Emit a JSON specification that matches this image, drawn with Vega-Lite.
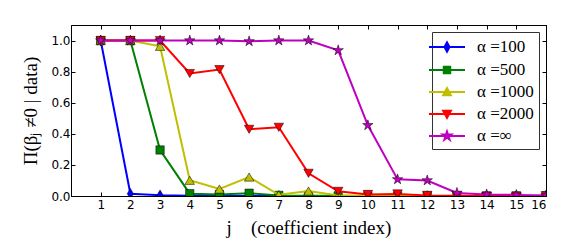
{
  "$schema": "https://vega.github.io/schema/vega-lite/v6.json",
  "width": 475,
  "height": 171,
  "autosize": "none",
  "padding": {"left": 71, "top": 25, "right": 40, "bottom": 49},
  "background": "white",
  "data": {"values": [
    {"s": "α =100", "j": 1, "p": 1.0}, {"s": "α =100", "j": 2, "p": 0.015}, {"s": "α =100", "j": 3, "p": 0.005}, {"s": "α =100", "j": 4, "p": 0.002},
    {"s": "α =100", "j": 5, "p": 0}, {"s": "α =100", "j": 6, "p": 0}, {"s": "α =100", "j": 7, "p": 0}, {"s": "α =100", "j": 8, "p": 0},
    {"s": "α =100", "j": 9, "p": 0}, {"s": "α =100", "j": 10, "p": 0}, {"s": "α =100", "j": 11, "p": 0}, {"s": "α =100", "j": 12, "p": 0},
    {"s": "α =100", "j": 13, "p": 0}, {"s": "α =100", "j": 14, "p": 0}, {"s": "α =100", "j": 15, "p": 0}, {"s": "α =100", "j": 16, "p": 0},
    {"s": "α =500", "j": 1, "p": 1.0}, {"s": "α =500", "j": 2, "p": 1.0}, {"s": "α =500", "j": 3, "p": 0.296}, {"s": "α =500", "j": 4, "p": 0.015},
    {"s": "α =500", "j": 5, "p": 0.01}, {"s": "α =500", "j": 6, "p": 0.018}, {"s": "α =500", "j": 7, "p": 0.004}, {"s": "α =500", "j": 8, "p": 0.002},
    {"s": "α =500", "j": 9, "p": 0.001}, {"s": "α =500", "j": 10, "p": 0}, {"s": "α =500", "j": 11, "p": 0}, {"s": "α =500", "j": 12, "p": 0},
    {"s": "α =500", "j": 13, "p": 0}, {"s": "α =500", "j": 14, "p": 0}, {"s": "α =500", "j": 15, "p": 0}, {"s": "α =500", "j": 16, "p": 0},
    {"s": "α =1000", "j": 1, "p": 1.0}, {"s": "α =1000", "j": 2, "p": 1.0}, {"s": "α =1000", "j": 3, "p": 0.963}, {"s": "α =1000", "j": 4, "p": 0.101},
    {"s": "α =1000", "j": 5, "p": 0.045}, {"s": "α =1000", "j": 6, "p": 0.122}, {"s": "α =1000", "j": 7, "p": 0.008}, {"s": "α =1000", "j": 8, "p": 0.032},
    {"s": "α =1000", "j": 9, "p": 0.004}, {"s": "α =1000", "j": 10, "p": 0.002}, {"s": "α =1000", "j": 11, "p": 0}, {"s": "α =1000", "j": 12, "p": 0},
    {"s": "α =1000", "j": 13, "p": 0}, {"s": "α =1000", "j": 14, "p": 0}, {"s": "α =1000", "j": 15, "p": 0}, {"s": "α =1000", "j": 16, "p": 0},
    {"s": "α =2000", "j": 1, "p": 1.0}, {"s": "α =2000", "j": 2, "p": 1.0}, {"s": "α =2000", "j": 3, "p": 1.0}, {"s": "α =2000", "j": 4, "p": 0.788},
    {"s": "α =2000", "j": 5, "p": 0.813}, {"s": "α =2000", "j": 6, "p": 0.429}, {"s": "α =2000", "j": 7, "p": 0.442}, {"s": "α =2000", "j": 8, "p": 0.146},
    {"s": "α =2000", "j": 9, "p": 0.03}, {"s": "α =2000", "j": 10, "p": 0.01}, {"s": "α =2000", "j": 11, "p": 0.013}, {"s": "α =2000", "j": 12, "p": 0.004},
    {"s": "α =2000", "j": 13, "p": 0.001}, {"s": "α =2000", "j": 14, "p": 0}, {"s": "α =2000", "j": 15, "p": 0}, {"s": "α =2000", "j": 16, "p": 0.002},
    {"s": "α =∞", "j": 1, "p": 1.0}, {"s": "α =∞", "j": 2, "p": 1.0}, {"s": "α =∞", "j": 3, "p": 1.0}, {"s": "α =∞", "j": 4, "p": 1.0},
    {"s": "α =∞", "j": 5, "p": 1.0}, {"s": "α =∞", "j": 6, "p": 0.995}, {"s": "α =∞", "j": 7, "p": 1.0}, {"s": "α =∞", "j": 8, "p": 1.0},
    {"s": "α =∞", "j": 9, "p": 0.937}, {"s": "α =∞", "j": 10, "p": 0.455}, {"s": "α =∞", "j": 11, "p": 0.107}, {"s": "α =∞", "j": 12, "p": 0.1},
    {"s": "α =∞", "j": 13, "p": 0.02}, {"s": "α =∞", "j": 14, "p": 0.01}, {"s": "α =∞", "j": 15, "p": 0.007}, {"s": "α =∞", "j": 16, "p": 0.003}
  ]},
  "config": {
    "view": {"stroke": "black", "strokeWidth": 1},
    "axis": {
      "grid": false,
      "domainColor": "black",
      "tickColor": "black",
      "labelColor": "black",
      "labelFont": "DejaVu Sans",
      "labelFontSize": 12,
      "titleFont": "Liberation Serif",
      "titleFontSize": 19,
      "titleFontWeight": "normal",
      "titleColor": "black",
      "tickSize": -4,
      "labelPadding": 5
    },
    "legend": {
      "orient": "top-right",
      "offset": 7,
      "title": null,
      "padding": 5,
      "strokeColor": "#333333",
      "fillColor": "white",
      "symbolSize": 324,
      "symbolStrokeWidth": 1.8,
      "symbolOpacity": 1,
      "labelFont": "Liberation Serif",
      "labelFontSize": 17,
      "labelColor": "black",
      "labelOffset": 20,
      "rowPadding": 4
    }
  },
  "resolve": {"axis": {"x": "independent", "y": "independent"}},
  "layer": [
    {
      "encoding": {
        "x": {"field": "j", "type": "quantitative", "scale": {"domain": [0, 16], "nice": false, "zero": false},
              "axis": {"orient": "bottom", "values": [1,2,3,4,5,6,7,8,9,10,11,12,13,14,15,16], "title": "j\u2003(coefficient index)", "titlePadding": 8, "labelPadding": 7}},
        "y": {"field": "p", "type": "quantitative", "scale": {"domain": [0, 1.1], "nice": false},
              "axis": {"orient": "left", "values": [0, 0.2, 0.4, 0.6, 0.8, 1.0], "format": ".1f", "title": "Π(βⱼ ≠0 | data)", "titlePadding": 10}}
      },
      "layer": [
        {"transform": [{"filter": "datum.s === 'α =100'"}], "mark": {"type": "line", "color": "#0000ff", "strokeWidth": 2, "clip": true}},
        {"transform": [{"filter": "datum.s === 'α =100'"}], "mark": {"type": "point", "filled": true, "opacity": 1, "shape": "M0,-1L0.6,0L0,1L-0.6,0Z", "size": 110, "fill": "#0000ff", "stroke": "black", "strokeWidth": 0.5, "clip": true}},
        {"transform": [{"filter": "datum.s === 'α =500'"}], "mark": {"type": "line", "color": "#008000", "strokeWidth": 2, "clip": true}},
        {"transform": [{"filter": "datum.s === 'α =500'"}], "mark": {"type": "point", "filled": true, "opacity": 1, "shape": "square", "size": 70, "fill": "#008000", "stroke": "black", "strokeWidth": 0.5, "clip": true}},
        {"transform": [{"filter": "datum.s === 'α =1000'"}], "mark": {"type": "line", "color": "#bfbf00", "strokeWidth": 2, "clip": true}},
        {"transform": [{"filter": "datum.s === 'α =1000'"}], "mark": {"type": "point", "filled": true, "opacity": 1, "shape": "triangle-up", "size": 90, "fill": "#bfbf00", "stroke": "black", "strokeWidth": 0.5, "clip": true}},
        {"transform": [{"filter": "datum.s === 'α =2000'"}], "mark": {"type": "line", "color": "#ff0000", "strokeWidth": 2, "clip": true}},
        {"transform": [{"filter": "datum.s === 'α =2000'"}], "mark": {"type": "point", "filled": true, "opacity": 1, "shape": "triangle-down", "size": 90, "fill": "#ff0000", "stroke": "black", "strokeWidth": 0.5, "clip": true}},
        {"transform": [{"filter": "datum.s === 'α =∞'"}], "mark": {"type": "line", "color": "#bf00bf", "strokeWidth": 2, "clip": true}},
        {"transform": [{"filter": "datum.s === 'α =∞'"}], "mark": {"type": "point", "filled": true, "opacity": 1, "shape": "M0,-1L0.225,-0.309L0.951,-0.309L0.363,0.118L0.588,0.809L0,0.382L-0.588,0.809L-0.363,0.118L-0.951,-0.309L-0.225,-0.309Z", "size": 120, "fill": "#bf00bf", "stroke": "black", "strokeWidth": 0.5, "clip": true}}
      ]
    },
    {
      "mark": {"type": "point", "filled": true, "opacity": 0, "clip": true},
      "encoding": {
        "x": {"field": "j", "type": "quantitative", "axis": {"orient": "top", "values": [1,2,3,4,5,6,7,8,9,10,11,12,13,14,15,16], "labels": false, "title": null}},
        "y": {"field": "p", "type": "quantitative", "axis": {"orient": "right", "values": [0, 0.2, 0.4, 0.6, 0.8, 1.0], "labels": false, "title": null}},
        "fill": {"field": "s", "type": "nominal", "scale": {"domain": ["α =100", "α =500", "α =1000", "α =2000", "α =∞"], "range": ["#0000ff", "#008000", "#bfbf00", "#ff0000", "#bf00bf"]}},
        "stroke": {"field": "s", "type": "nominal", "scale": {"domain": ["α =100", "α =500", "α =1000", "α =2000", "α =∞"], "range": ["#0000ff", "#008000", "#bfbf00", "#ff0000", "#bf00bf"]}},
        "shape": {"field": "s", "type": "nominal", "scale": {"domain": ["α =100", "α =500", "α =1000", "α =2000", "α =∞"], "range": [
          "M-2,0H2M0,-0.53L0.29,0L0,0.53L-0.29,0Z",
          "M-2,0H2M-0.37,-0.37H0.37V0.37H-0.37Z",
          "M-2,0H2M0,-0.45L0.45,0.37H-0.45Z",
          "M-2,0H2M0,0.45L0.45,-0.37H-0.45Z",
          "M-2,0H2M0,-0.53L0.12,-0.164L0.504,-0.164L0.192,0.063L0.312,0.429L0,0.202L-0.312,0.429L-0.192,0.063L-0.504,-0.164L-0.12,-0.164Z"
        ]}}
      }
    }
  ]
}
